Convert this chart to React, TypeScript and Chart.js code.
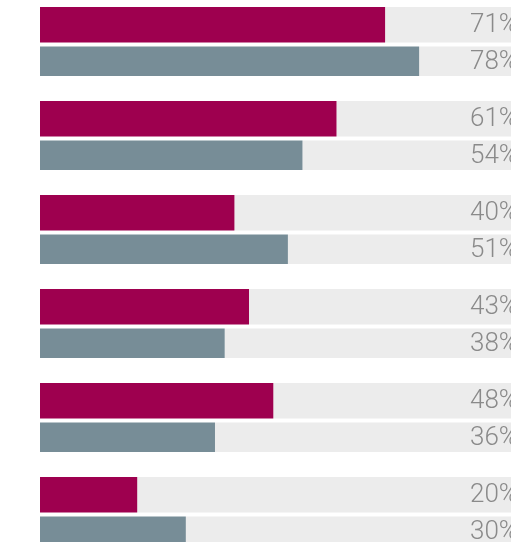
import React, { useEffect, useRef } from "react";
import { Chart, registerables } from "chart.js";

Chart.register(...registerables);

const categories = ["Item 1", "Item 2", "Item 3", "Item 4", "Item 5", "Item 6"];
const seriesA = [71, 61, 40, 43, 48, 20];
const seriesB = [78, 54, 51, 38, 36, 30];
const FULL = 100;

const COLOR_A = "#9e004f";
const COLOR_B = "#778d97";
const TRACK = "#ececec";

const labelPlugin = {
  id: "valueLabels",
  afterDatasetsDraw(chart: any) {
    const ctx = chart.ctx;
    ctx.save();
    ctx.font = "300 26px Roboto, 'Noto Sans', sans-serif";
    ctx.fillStyle = "#8a8a8a";
    ctx.textAlign = "left";
    ctx.textBaseline = "middle";
    [0, 2].forEach((dsIndex) => {
      const meta = chart.getDatasetMeta(dsIndex);
      const data = chart.data.datasets[dsIndex].data as number[];
      meta.data.forEach((el: any, i: number) => {
        ctx.fillText(data[i] + "%", 470, el.y + 1);
      });
    });
    ctx.restore();
  },
};

export default function App() {
  const ref = useRef<HTMLCanvasElement | null>(null);
  useEffect(() => {
    if (!ref.current) return;
    const cp = 0.777;
    const chart = new Chart(ref.current, {
      type: "bar",
      data: {
        labels: categories,
        datasets: [
          {
            label: "A",
            data: seriesA,
            backgroundColor: COLOR_A,
            stack: "a",
            barPercentage: 0.97,
            categoryPercentage: cp,
          },
          {
            label: "A track",
            data: seriesA.map((v) => FULL - v),
            backgroundColor: TRACK,
            stack: "a",
            barPercentage: 0.97,
            categoryPercentage: cp,
          },
          {
            label: "B",
            data: seriesB,
            backgroundColor: COLOR_B,
            stack: "b",
            barPercentage: 0.81,
            categoryPercentage: cp,
          },
          {
            label: "B track",
            data: seriesB.map((v) => FULL - v),
            backgroundColor: TRACK,
            stack: "b",
            barPercentage: 0.81,
            categoryPercentage: cp,
          },
        ],
      },
      options: {
        indexAxis: "y",
        animation: false,
        responsive: true,
        maintainAspectRatio: false,
        layout: { padding: { left: 40, right: 0, top: 0, bottom: 0 } },
        plugins: { legend: { display: false }, tooltip: { enabled: false } },
        scales: {
          x: { display: false, min: 0, max: 96.9, stacked: true },
          y: { display: false },
        },
      },
      plugins: [labelPlugin],
    });
    return () => chart.destroy();
  }, []);
  return (
    <div
      style={{
        position: "fixed",
        left: 0,
        top: 0,
        width: 511,
        height: 542,
        overflow: "hidden",
        background: "#fff",
      }}
    >
      <div style={{ position: "absolute", left: 0, top: -4, width: 511, height: 564 }}>
        <canvas ref={ref} />
      </div>
    </div>
  );
}
